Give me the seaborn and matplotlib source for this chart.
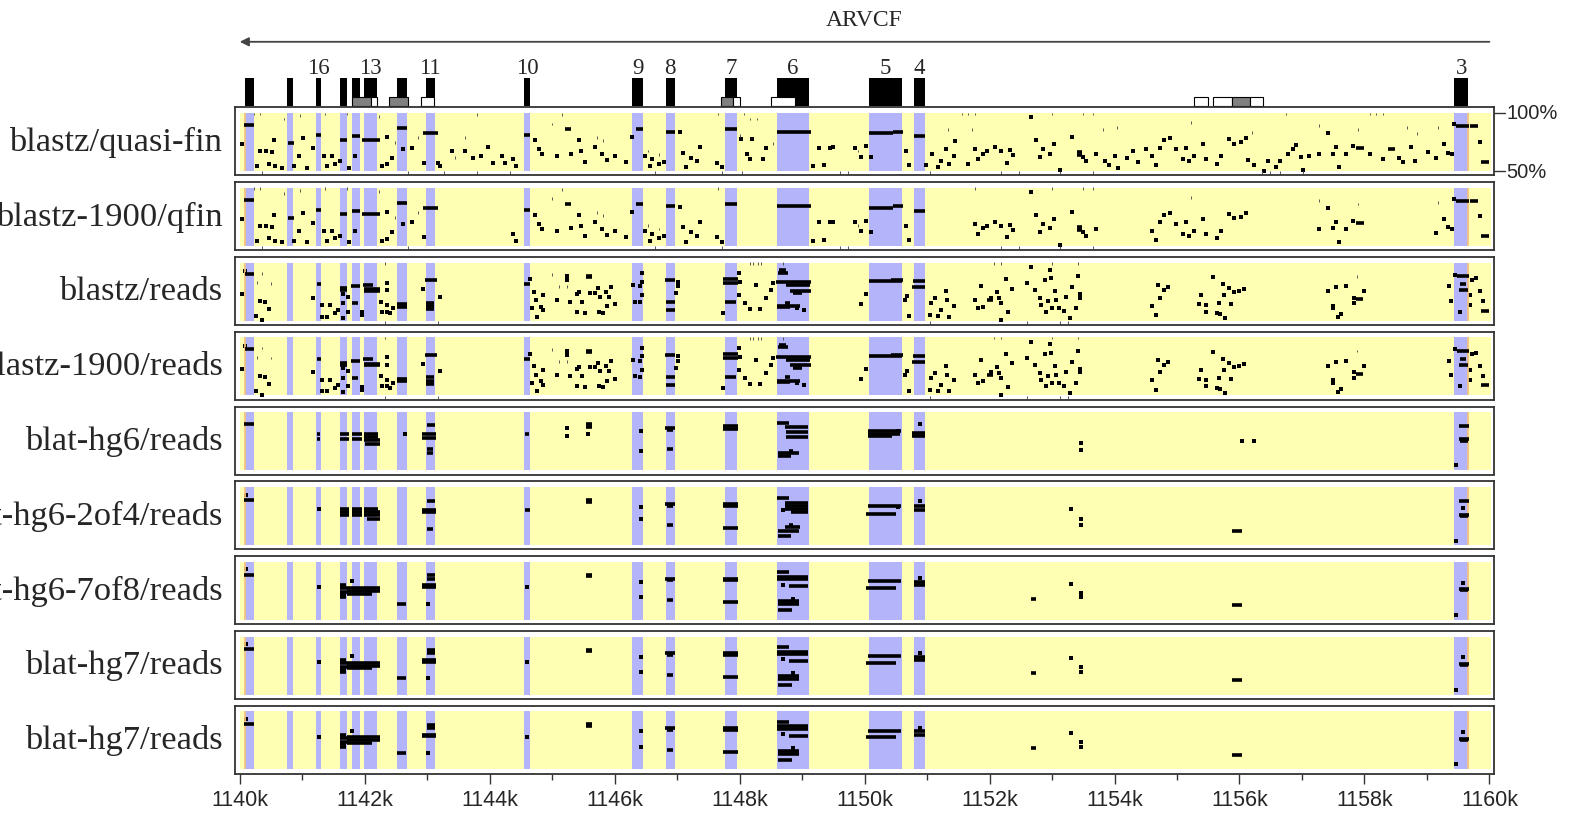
import matplotlib
matplotlib.use("Agg")
import matplotlib.pyplot as plt
import seaborn as sns

# ---------------- data ----------------
gene_name = "ARVCF"
gene_start, gene_end = 1140.0, 1160.0   # kb, transcribed right-to-left

# exons (kb)
exons = [(1140.09, 1140.22), (1140.76, 1140.85), (1141.22, 1141.30), (1141.60, 1141.71),
         (1141.79, 1141.92), (1141.99, 1142.19), (1142.52, 1142.67), (1142.98, 1143.12),
         (1144.55, 1144.64), (1146.28, 1146.46), (1146.82, 1146.96), (1147.76, 1147.96),
         (1148.60, 1149.11), (1150.07, 1150.60), (1150.79, 1150.96), (1159.44, 1159.66)]
exon_labels = ["", "", "16", "", "", "13", "", "11", "10", "9", "8", "7", "6", "5", "4", "3"]

# small boxes under the exon row (start, end, fill)
features = [(1141.79, 1142.10, "gray"), (1142.10, 1142.20, "white"), (1142.39, 1142.70, "gray"),
            (1142.90, 1143.11, "white"), (1147.695, 1147.895, "gray"), (1147.895, 1148.00, "white"),
            (1148.50, 1148.89, "white"), (1155.28, 1155.49, "white"), (1155.58, 1155.88, "white"),
            (1155.88, 1156.17, "gray"), (1156.17, 1156.38, "white")]

orange_marks = [1140.09, 1159.66]

panel_names = ["blastz/quasi-fin", "blastz-1900/qfin", "blastz/reads", "blastz-1900/reads",
               "blat-hg6/reads", "blat-hg6-2of4/reads", "blat-hg6-7of8/reads",
               "blat-hg7/reads", "blat-hg7/reads"]

# --- blastz vs quasi-finished sequence: segments (start, end, %id) and dots (pos, %id)
qfin_segs = [(1140.07, 1140.22, 89.3), (1140.77, 1140.86, 74.0), (1141.22, 1141.30, 81.0),
             (1141.60, 1141.71, 77.0), (1141.79, 1141.93, 80.0), (1141.96, 1142.24, 77.0),
             (1142.52, 1142.68, 87.0), (1142.94, 1143.17, 83.0), (1144.55, 1144.65, 81.0),
             (1146.34, 1146.46, 86.0), (1146.82, 1146.96, 84.0), (1147.76, 1147.96, 86.0),
             (1148.60, 1149.14, 84.0), (1150.07, 1150.45, 83.0), (1150.45, 1150.61, 84.0),
             (1150.79, 1150.96, 80.0), (1145.20, 1145.30, 86.1), (1153.40, 1153.48, 66.0),
             (1153.40, 1153.48, 63.8), (1157.86, 1157.99, 69.7), (1158.38, 1158.49, 68.8),
             (1159.47, 1159.68, 88.7), (1159.69, 1159.82, 88.9), (1159.87, 1159.99, 58.1)]
qfin_dots = [(1140.04, 73.1), (1140.55, 76.6), (1140.32, 67.3), (1140.42, 67.3), (1140.51, 66.5),
             (1140.27, 54.3), (1140.46, 56.4), (1140.56, 54.3), (1140.67, 52.9), (1140.87, 54.3),
             (1141.01, 78.3), (1140.94, 63.0), (1141.17, 69.4), (1141.07, 52.9), (1141.35, 63.0),
             (1141.39, 54.3), (1141.48, 63.0), (1141.52, 56.4), (1141.61, 58.7), (1141.85, 63.0),
             (1141.75, 52.9), (1142.36, 79.5), (1142.44, 61.6), (1142.36, 55.8), (1142.27, 54.3),
             (1142.61, 68.8), (1142.75, 70.2), (1142.95, 57.2), (1143.18, 57.2), (1143.21, 54.3),
             (1143.40, 67.3), (1143.61, 67.3), (1143.73, 61.6), (1143.86, 63.0), (1143.98, 70.8),
             (1144.06, 57.2), (1144.19, 63.0), (1144.25, 57.2), (1144.38, 60.1), (1144.42, 54.3),
             (1144.72, 76.6), (1144.79, 68.8), (1144.84, 64.5), (1145.07, 63.0), (1145.30, 65.0),
             (1145.43, 76.6), (1145.46, 67.3), (1145.53, 58.1), (1145.68, 70.8), (1145.79, 64.5),
             (1145.88, 59.3), (1146.00, 63.0), (1146.18, 57.8), (1146.28, 79.2), (1146.49, 63.0),
             (1146.56, 54.3), (1146.60, 60.1), (1146.71, 56.4), (1146.79, 58.1), (1147.04, 83.2),
             (1147.09, 65.9), (1147.22, 61.6), (1147.14, 53.5), (1147.31, 58.7), (1147.37, 70.8),
             (1147.64, 57.2), (1147.71, 53.5), (1148.03, 77.7), (1148.12, 64.5), (1148.17, 60.1),
             (1148.43, 70.2), (1148.37, 60.1), (1148.20, 78.0), (1149.18, 54.3), (1149.27, 70.2),
             (1149.35, 54.9), (1149.44, 70.2), (1149.50, 70.8), (1149.84, 70.2), (1150.02, 71.7),
             (1150.10, 62.1), (1149.95, 62.4), (1150.66, 67.3), (1150.71, 55.2), (1150.99, 54.9),
             (1151.08, 65.0), (1151.17, 53.8), (1151.30, 68.8), (1151.23, 58.7), (1151.35, 55.8),
             (1151.43, 63.0), (1151.44, 76.0), (1151.66, 55.8), (1151.77, 68.8), (1151.82, 60.1),
             (1151.89, 65.0), (1151.96, 67.3), (1152.08, 70.8), (1152.18, 67.3), (1152.28, 57.2),
             (1152.33, 67.9), (1152.38, 63.9), (1152.67, 96.2), (1152.74, 76.6), (1152.81, 62.1),
             (1152.85, 68.8), (1152.96, 65.0), (1153.03, 73.1), (1153.13, 50.6), (1153.32, 78.9),
             (1153.49, 62.1), (1153.55, 58.7), (1153.71, 64.5), (1153.85, 58.7), (1153.91, 54.9),
             (1154.01, 63.0), (1154.05, 52.9), (1154.20, 61.0), (1154.29, 67.3), (1154.37, 58.1),
             (1154.50, 68.8), (1154.60, 63.0), (1154.66, 55.2), (1154.73, 70.2), (1154.79, 76.6),
             (1154.89, 78.3), (1154.99, 68.8), (1155.09, 60.1), (1155.15, 70.2), (1155.20, 58.7),
             (1155.27, 63.0), (1155.41, 73.1), (1155.47, 60.1), (1155.64, 56.4), (1155.71, 63.0),
             (1155.84, 77.5), (1155.92, 73.7), (1156.03, 74.6), (1156.10, 78.3), (1156.13, 59.3),
             (1156.23, 54.9), (1156.39, 50.0), (1156.46, 58.7), (1156.59, 53.5), (1156.65, 58.7),
             (1156.78, 64.5), (1156.85, 68.8), (1156.90, 72.5), (1156.98, 62.1), (1157.01, 50.6),
             (1157.11, 63.0), (1157.27, 64.5), (1157.42, 82.4), (1157.49, 65.0), (1157.54, 70.8),
             (1157.60, 53.5), (1157.70, 64.5), (1157.82, 71.7), (1158.09, 65.0), (1158.29, 60.1),
             (1158.55, 61.6), (1158.61, 58.1), (1158.74, 70.8), (1158.81, 58.7), (1159.01, 66.8),
             (1159.14, 61.0), (1159.27, 73.1), (1159.33, 65.9), (1159.40, 64.5), (1159.43, 90.5),
             (1159.85, 75.4)]
qfin_faint = [(1140.23, 99.1), (1140.32, 99.1), (1140.71, 94.8), (1140.97, 97.7), (1141.36, 99.1),
              (1141.72, 99.1), (1142.23, 96.8), (1142.49, 74.6), (1142.85, 78.9), (1143.60, 78.9),
              (1143.44, 61.6), (1143.79, 98.6), (1145.00, 90.5), (1145.15, 98.6), (1145.72, 78.9),
              (1145.82, 76.0), (1146.54, 67.3), (1146.71, 64.5), (1147.65, 99.1), (1148.07, 99.1),
              (1148.17, 94.8), (1148.28, 94.8), (1148.01, 80.3), (1148.53, 73.7), (1149.90, 67.3),
              (1151.56, 99.1), (1151.66, 99.1), (1151.76, 99.1), (1153.00, 99.1), (1153.49, 99.1),
              (1153.65, 99.1), (1156.75, 99.1), (1158.09, 99.1), (1158.19, 99.1), (1158.30, 99.1),
              (1151.33, 86.1), (1151.72, 86.1), (1153.81, 86.1), (1154.04, 87.5), (1155.22, 91.9),
              (1156.20, 83.2), (1157.27, 89.0), (1157.90, 86.1), (1158.68, 87.5), (1159.17, 87.5),
              (1158.84, 82.4), (1140.35, 48.5), (1142.70, 48.5), (1143.27, 48.5), (1143.79, 48.5),
              (1144.32, 48.5), (1146.64, 48.5), (1147.71, 48.5), (1148.04, 48.5), (1149.61, 48.5),
              (1149.74, 48.5), (1151.04, 48.5), (1152.18, 48.5), (1152.47, 48.5), (1153.13, 48.5),
              (1153.65, 48.5), (1156.36, 48.5), (1156.49, 48.5), (1156.65, 48.5), (1157.01, 48.5)]
# regions where the 1900 run found nothing
gaps_1900 = [(1143.11, 1144.35), (1147.97, 1148.59), (1150.97, 1151.72),
             (1153.81, 1154.56), (1156.13, 1157.21), (1157.99, 1159.13)]

# --- blastz vs reads
reads_segs = [(1140.08, 1140.22, 90.0), (1141.23, 1141.30, 81.3), (1141.60, 1141.72, 78.2),
              (1141.60, 1141.72, 76.5), (1141.78, 1141.93, 79.9), (1141.79, 1141.90, 65.0),
              (1141.97, 1142.14, 81.1), (1141.99, 1142.24, 77.2), (1141.99, 1142.24, 75.8),
              (1142.51, 1142.67, 64.5), (1142.51, 1142.67, 62.0), (1142.97, 1143.15, 85.1),
              (1142.98, 1143.11, 65.5), (1142.98, 1143.11, 62.8), (1142.98, 1143.11, 60.0),
              (1144.55, 1144.64, 81.3), (1145.54, 1145.64, 88.5), (1145.54, 1145.64, 87.3),
              (1146.81, 1146.96, 85.1), (1146.82, 1146.96, 65.8), (1146.82, 1146.96, 59.2),
              (1147.73, 1147.98, 85.9), (1147.73, 1147.98, 82.2), (1147.77, 1147.94, 65.8),
              (1148.63, 1148.75, 93.7), (1148.61, 1148.78, 91.4), (1148.59, 1149.14, 83.1),
              (1148.75, 1149.12, 80.8), (1148.80, 1149.14, 75.9), (1148.85, 1149.00, 73.6),
              (1148.72, 1148.81, 65.6), (1148.60, 1148.97, 62.7), (1148.60, 1148.81, 61.3),
              (1150.07, 1150.60, 83.8), (1150.42, 1150.61, 84.6), (1150.78, 1150.96, 83.8),
              (1150.76, 1150.96, 78.9), (1151.96, 1152.05, 67.9), (1157.86, 1157.97, 68.5),
              (1159.48, 1159.67, 88.2), (1159.53, 1159.63, 81.8), (1159.51, 1159.66, 76.0),
              (1159.87, 1159.99, 58.7)]
reads_dots = [(1140.09, 92.8), (1140.03, 72.7), (1140.32, 67.0), (1140.41, 65.8), (1140.46, 59.8),
              (1140.26, 54.1), (1140.35, 50.1), (1141.17, 69.9), (1141.31, 63.6), (1141.31, 53.5),
              (1141.39, 53.5), (1141.45, 63.6), (1141.53, 56.4), (1141.58, 59.2), (1141.66, 73.3),
              (1141.66, 65.0), (1141.66, 52.6), (1141.74, 70.7), (1141.74, 57.8), (1141.96, 57.2),
              (1141.96, 54.9), (1142.35, 82.8), (1142.35, 76.5), (1142.26, 66.4), (1142.28, 57.8),
              (1142.35, 57.8), (1142.40, 56.4), (1142.45, 60.7), (1142.35, 63.6), (1142.94, 77.0),
              (1143.20, 70.7), (1144.64, 85.6), (1144.71, 75.0), (1144.74, 67.9), (1144.82, 62.1),
              (1144.86, 72.2), (1144.85, 59.2), (1144.67, 60.7), (1144.76, 53.5), (1145.07, 67.9),
              (1145.24, 88.5), (1145.24, 85.1), (1145.43, 74.5), (1145.39, 73.0), (1145.29, 66.4),
              (1145.47, 66.4), (1145.60, 74.2), (1145.69, 74.2), (1145.73, 77.9), (1145.77, 70.7),
              (1145.86, 75.0), (1145.94, 79.3), (1145.91, 70.7), (1146.00, 64.1), (1145.88, 62.7),
              (1145.81, 56.9), (1145.75, 57.8), (1145.53, 56.9), (1145.40, 57.8), (1146.44, 90.8),
              (1146.43, 83.6), (1146.41, 79.9), (1146.43, 72.2), (1146.41, 65.8), (1146.30, 80.8),
              (1146.33, 66.4), (1147.02, 83.6), (1147.02, 79.9), (1146.98, 73.6), (1147.74, 56.4),
              (1147.99, 90.8), (1148.01, 83.1), (1147.99, 72.2), (1148.08, 65.0), (1148.17, 59.8),
              (1148.32, 59.8), (1148.43, 69.3), (1148.51, 76.5), (1148.54, 82.2), (1148.26, 80.8),
              (1148.92, 60.7), (1149.03, 59.2), (1150.02, 72.8), (1149.95, 64.2), (1150.71, 54.0),
              (1150.64, 67.9), (1150.68, 70.8), (1151.04, 54.9), (1151.13, 69.4), (1151.17, 54.0),
              (1151.23, 59.3), (1151.32, 67.9), (1151.30, 75.1), (1151.35, 53.5), (1151.43, 63.0),
              (1151.07, 65.0), (1151.77, 67.9), (1151.82, 60.7), (1151.89, 62.1), (1151.87, 80.1),
              (1152.03, 69.9), (1152.15, 69.4), (1152.18, 65.0), (1152.12, 74.6), (1152.26, 86.1),
              (1152.29, 57.2), (1152.36, 77.5), (1152.18, 50.6), (1152.60, 82.4), (1152.67, 96.0),
              (1152.72, 76.6), (1152.80, 69.4), (1152.88, 85.3), (1152.96, 93.9), (1152.98, 86.7),
              (1153.05, 75.1), (1153.07, 67.9), (1153.11, 60.7), (1153.19, 58.4), (1153.23, 70.2),
              (1153.32, 78.6), (1153.42, 88.2), (1153.45, 72.8), (1153.45, 69.9), (1153.39, 60.7),
              (1153.29, 52.0), (1153.00, 60.7), (1152.90, 57.8), (1152.83, 63.6), (1152.94, 66.5),
              (1154.60, 63.0), (1154.66, 54.9), (1154.69, 80.9), (1154.73, 69.9), (1154.79, 76.0),
              (1154.86, 78.6), (1155.38, 71.7), (1155.47, 57.8), (1155.47, 63.6), (1155.58, 87.6),
              (1155.64, 56.4), (1155.69, 55.5), (1155.67, 65.0), (1155.74, 81.5), (1155.77, 52.0),
              (1155.76, 72.3), (1155.84, 78.0), (1155.92, 74.6), (1155.99, 75.7), (1156.07, 77.2),
              (1155.86, 64.2), (1155.35, 64.2), (1157.41, 75.1), (1157.54, 78.6), (1157.70, 79.5),
              (1157.50, 63.0), (1157.49, 60.7), (1157.58, 52.9), (1157.63, 55.5), (1157.83, 69.9),
              (1157.84, 65.0), (1157.99, 75.7), (1159.45, 89.6), (1159.53, 57.8), (1159.38, 67.3),
              (1159.36, 79.5), (1159.72, 85.3), (1159.78, 86.7), (1159.85, 75.1), (1159.89, 66.5),
              (1159.69, 72.3), (1159.69, 63.6)]
reads_faint = [(1140.27, 82.8), (1140.36, 90.8), (1140.50, 82.2), (1142.32, 99.4), (1145.00, 89.4),
               (1145.11, 79.3), (1145.23, 79.3), (1148.17, 98.9), (1148.22, 98.9), (1148.29, 98.9),
               (1148.35, 98.9), (1148.70, 98.9), (1152.07, 99.5), (1152.18, 99.5), (1153.00, 99.5),
               (1153.42, 99.5), (1157.88, 88.2), (1151.04, 48.5), (1152.60, 48.5), (1153.13, 48.5),
               (1153.26, 48.5), (1142.32, 48.5), (1143.18, 48.5)]

# --- blat runs
hg6_segs = [(1140.07, 1140.23, 90.0), (1141.24, 1141.28, 80.8), (1141.24, 1141.28, 76.5),
            (1141.60, 1141.75, 80.8), (1141.60, 1141.75, 76.5), (1141.79, 1141.95, 80.8),
            (1141.79, 1141.95, 76.5), (1141.99, 1142.21, 80.8), (1141.99, 1142.21, 78.5),
            (1141.99, 1142.25, 76.0), (1142.01, 1142.25, 72.5), (1142.99, 1143.12, 88.8),
            (1142.92, 1143.14, 81.6), (1142.92, 1143.14, 77.9), (1142.99, 1143.09, 67.9),
            (1142.99, 1143.09, 64.4), (1144.56, 1144.63, 80.8), (1145.54, 1145.64, 89.4),
            (1145.54, 1145.64, 87.0), (1146.81, 1146.96, 86.5), (1146.84, 1146.94, 84.5),
            (1146.84, 1146.94, 67.9), (1147.74, 1147.98, 87.9), (1147.74, 1147.98, 85.5),
            (1148.60, 1148.79, 90.8), (1148.73, 1149.10, 87.1), (1148.75, 1149.10, 83.1),
            (1148.75, 1149.10, 78.8), (1148.79, 1148.86, 66.4), (1148.62, 1148.95, 64.4),
            (1148.62, 1148.82, 62.1), (1150.06, 1150.59, 84.2), (1150.06, 1150.57, 81.6),
            (1150.06, 1150.44, 79.3), (1150.76, 1150.96, 82.2), (1150.76, 1150.96, 79.3),
            (1159.51, 1159.68, 88.5), (1159.51, 1159.68, 76.5), (1159.53, 1159.66, 75.3)]
hg6_dots = [(1142.64, 81.6), (1145.23, 86.5), (1145.23, 79.3), (1145.58, 80.8), (1146.42, 83.6),
            (1146.42, 66.4), (1150.54, 83.6), (1150.89, 89.4), (1153.46, 73.6), (1153.46, 67.0),
            (1156.04, 75.6), (1156.23, 75.6), (1159.47, 54.1)]

hg6_2of4_segs = [(1140.07, 1140.23, 88.5), (1141.60, 1141.75, 81.3), (1141.60, 1141.75, 78.5),
                 (1141.60, 1141.75, 75.5), (1141.79, 1141.95, 81.3), (1141.79, 1141.95, 78.5),
                 (1141.79, 1141.95, 75.5), (1141.99, 1142.21, 81.3), (1141.99, 1142.25, 78.5),
                 (1141.99, 1142.25, 75.5), (1142.03, 1142.25, 72.8), (1142.99, 1143.12, 87.9),
                 (1142.92, 1143.14, 80.5), (1142.92, 1143.14, 78.3), (1142.99, 1143.09, 64.1),
                 (1144.56, 1144.64, 80.5), (1145.54, 1145.64, 88.5), (1145.54, 1145.64, 87.3),
                 (1146.81, 1146.96, 85.1), (1146.84, 1146.94, 83.5), (1146.84, 1146.94, 67.0),
                 (1147.74, 1147.98, 85.4), (1147.74, 1147.98, 84.0), (1147.74, 1147.98, 65.0),
                 (1148.60, 1148.79, 90.5), (1148.73, 1149.10, 86.5), (1148.73, 1149.10, 83.6),
                 (1148.73, 1149.10, 80.8), (1148.82, 1149.10, 78.5), (1148.79, 1148.86, 67.0),
                 (1148.73, 1148.97, 65.5), (1148.62, 1148.95, 61.8), (1148.62, 1148.82, 57.8),
                 (1150.06, 1150.59, 83.4), (1150.02, 1150.50, 77.0), (1150.79, 1150.96, 83.6),
                 (1150.79, 1150.96, 79.9), (1155.88, 1156.04, 61.8), (1159.51, 1159.68, 87.9),
                 (1159.51, 1159.68, 75.6), (1159.53, 1159.66, 74.6)]
hg6_2of4_dots = [(1140.10, 92.8), (1141.26, 81.3), (1146.42, 82.8), (1146.42, 72.2),
                 (1148.69, 79.9), (1150.54, 82.4), (1150.89, 87.9), (1153.31, 80.8),
                 (1153.46, 72.8), (1153.46, 67.0), (1159.57, 81.9), (1159.47, 53.2)]

hg7_segs = [(1140.07, 1140.23, 89.0), (1141.60, 1141.70, 79.8), (1141.60, 1141.72, 77.0),
            (1141.60, 1141.72, 74.0), (1141.60, 1141.70, 71.5), (1141.60, 1141.70, 69.7),
            (1141.72, 1142.25, 77.5), (1141.72, 1142.25, 75.0), (1141.72, 1142.12, 72.5),
            (1142.51, 1142.66, 63.9), (1142.99, 1143.12, 88.4), (1142.99, 1143.12, 85.5),
            (1142.92, 1143.14, 79.8), (1142.92, 1143.14, 78.5), (1145.54, 1145.64, 88.8),
            (1145.54, 1145.64, 87.8), (1146.81, 1146.96, 85.5), (1146.84, 1146.94, 84.0),
            (1146.84, 1146.94, 66.8), (1147.74, 1147.98, 85.5), (1147.74, 1147.98, 84.0),
            (1147.74, 1147.98, 65.3), (1148.60, 1148.79, 90.8), (1148.60, 1149.10, 87.0),
            (1148.60, 1149.10, 85.0), (1148.79, 1149.10, 79.2), (1148.62, 1148.95, 65.9),
            (1148.62, 1148.95, 63.3), (1148.62, 1148.84, 58.1), (1150.06, 1150.59, 83.2),
            (1150.02, 1150.50, 77.5), (1150.79, 1150.96, 82.7), (1150.79, 1150.96, 79.8),
            (1152.66, 1152.75, 68.2), (1155.88, 1156.04, 62.4), (1159.51, 1159.68, 76.5),
            (1159.53, 1159.66, 75.5)]
hg7_dots = [(1140.10, 93.6), (1141.26, 78.3), (1141.79, 83.2), (1143.02, 63.9), (1144.59, 78.3),
            (1146.42, 82.7), (1146.42, 69.7), (1148.69, 80.3), (1148.86, 68.2), (1150.89, 86.1),
            (1153.31, 81.2), (1153.46, 73.4), (1153.46, 69.7), (1159.57, 82.1), (1159.47, 54.3)]

# ---------------- drawing ----------------
sns.set_style("white")
plt.rcParams['font.family'] = ['Liberation Serif', 'DejaVu Serif']

W, H = 1580, 820
fig = plt.figure(figsize=(W / 100, H / 100), dpi=100)

YELLOW = "#ffffb4"
BLUE = "#b4b4fa"
ORANGE = "#f3c27e"
X0, X1 = 1139.922, 1160.072
Y0, Y1 = 46.3, 104.9


def px_axes(x0, y0, x1, y1):
    return fig.add_axes([x0 / W, 1 - y1 / H, (x1 - x0) / W, (y1 - y0) / H])


def outside(x, gaps):
    return all(not (a <= x <= b) for a, b in gaps)


def draw_panel(ax, segs, dots, faint):
    ax.bar(1140.0, 50, width=20.03, bottom=50, align="edge", color=YELLOW, lw=0)
    for s, e in exons:
        ax.bar(s, 50, width=e - s, bottom=50, align="edge", color=BLUE, lw=0)
    ax.vlines(orange_marks, 50, 100, color=ORANGE, lw=1.3)
    if faint:
        ax.vlines([f[0] for f in faint], [f[1] - 1.2 for f in faint],
                  [f[1] + 1.2 for f in faint], color="#555555", lw=0.7)
    ax.hlines([s[2] for s in segs], [s[0] for s in segs], [s[1] for s in segs],
              color="black", lw=2.6)
    sns.scatterplot(x=[d[0] for d in dots], y=[d[1] for d in dots], marker="s", s=9,
                    color="black", linewidth=0, ax=ax, legend=False)
    ax.set_xlim(X0, X1)
    ax.set_ylim(Y0, Y1)
    ax.set_xticks([])
    ax.set_yticks([])
    ax.set_xlabel("")
    ax.set_ylabel("")
    for sp in ax.spines.values():
        sp.set_visible(True)
        sp.set_color("#333333")
        sp.set_linewidth(1.3)


# gene track
gax = px_axes(234.9, 0, 1493.9, 108.3)
gax.set_xlim(X0, X1)
gax.set_ylim(108.3, 0)
gax.axis("off")
gax.annotate("", xy=(gene_start, 42.8), xytext=(gene_end, 42.8),
             arrowprops=dict(arrowstyle="-|>", color="#444444", lw=1.3,
                             mutation_scale=13, shrinkA=0, shrinkB=0))
gax.text((gene_start + gene_end) / 2, 20, gene_name, ha="center", va="center", fontsize=17)
for (s, e), lab in zip(exons, exon_labels):
    gax.bar(s, 28.2, width=e - s, bottom=78.6, align="edge", color="black", lw=0)
    if lab:
        gax.text((s + e) / 2, 68.5, lab, ha="center", va="center", fontsize=16.5)
for s, e, c in features:
    gax.bar(s, 9.1, width=e - s, bottom=97.7, align="edge",
            color="#808080" if c == "gray" else "white", edgecolor="black", lw=0.8)

panel_data = [
    (qfin_segs, qfin_dots, qfin_faint),
    ([s for s in qfin_segs if outside((s[0] + s[1]) / 2, gaps_1900)],
     [d for d in qfin_dots if outside(d[0], gaps_1900)],
     [f for f in qfin_faint if outside(f[0], gaps_1900)]),
    (reads_segs, reads_dots, reads_faint),
    (reads_segs, reads_dots, reads_faint),
    (hg6_segs, hg6_dots, []),
    (hg6_2of4_segs, hg6_2of4_dots, []),
    (hg7_segs, hg7_dots, []),
    (hg7_segs, hg7_dots, []),
    (hg7_segs, hg7_dots, []),
]

axes = []
for i, (name, (segs, dots, faint)) in enumerate(zip(panel_names, panel_data)):
    top = 108.3 + 74.8 * i
    ax = px_axes(234.9, top, 1493.9, top + 68)
    draw_panel(ax, segs, dots, faint)
    fig.text(222.5 / W, 1 - (top + 34) / H, name, ha="right", va="center", fontsize=24.8)
    axes.append(ax)

# percent scale on first panel
for p, lab in [(100, "100%"), (50, "50%")]:
    axes[0].plot([X1, X1 + 0.18], [p, p], color="#333333", lw=1.0, clip_on=False)
    axes[0].text(X1 + 0.2, p, lab, ha="left", va="center", fontsize=14.5,
                 family=["Liberation Sans", "DejaVu Sans"])

# x axis on the last panel
last = axes[-1]
major = list(range(1140, 1161, 2))
last.set_xticks(major)
last.set_xticklabels([f"{v}k" for v in major], family=["Liberation Sans", "DejaVu Sans"],
                     fontsize=15.5)
last.set_xticks(list(range(1141, 1160, 2)), minor=True)
last.tick_params(axis="x", which="major", direction="out", length=7, width=1.0,
                 color="#333333", pad=4, bottom=True)
last.tick_params(axis="x", which="minor", direction="out", length=4, width=1.0,
                 color="#333333", bottom=True)

fig.savefig("out.png", dpi=100)
